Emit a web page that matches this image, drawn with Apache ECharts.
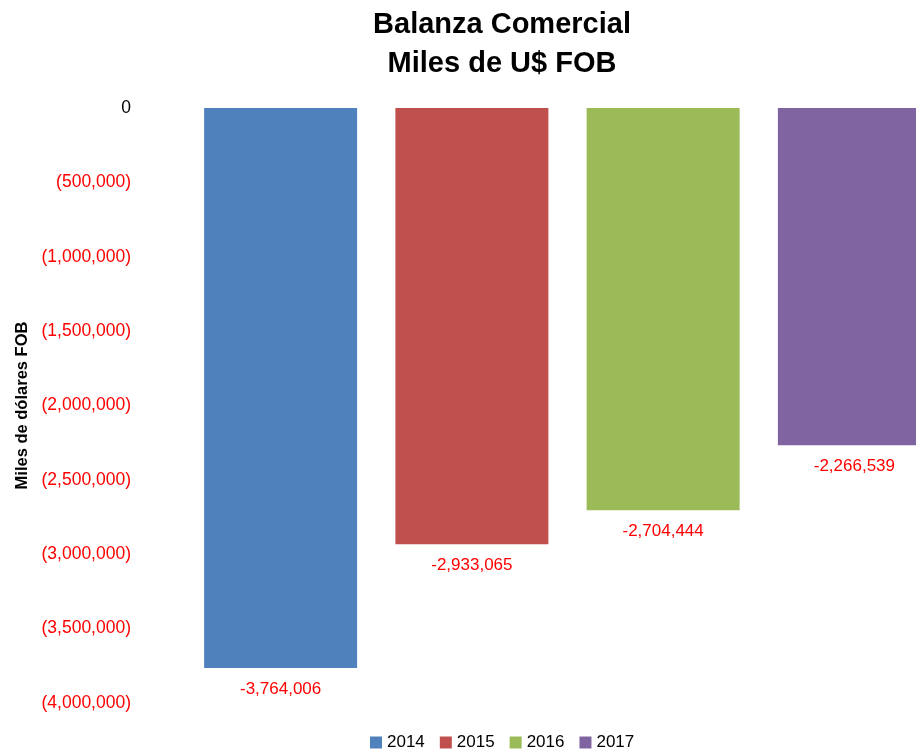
<!DOCTYPE html>
<html>
<head>
<meta charset="utf-8">
<script src="https://cdn.jsdelivr.net/npm/echarts@6/dist/echarts.min.js"></script>
<style>
  html, body { margin: 0; padding: 0; background: #fff; }
  #chart { width: 916px; height: 754px; }
</style>
</head>
<body>
<div id="chart"></div>
<script>
// Balanza comercial por año (miles de US$ FOB)
const years = ['2014', '2015', '2016', '2017']
const balance = [-3764006, -2933065, -2704444, -2266539]
const colors = ['#4F81BD', '#C0504D', '#9BBB59', '#8064A2']

const FONT = '"Liberation Sans", Arial, sans-serif'

function fmtNum(v) {
  return Math.abs(v).toLocaleString('en-US')
}

const chart = echarts.init(document.getElementById('chart'))

const series = years.map((y, i) => ({
  name: y,
  type: 'bar',
  data: [balance[i]],
  barWidth: 153,
  barGap: '25%',
  itemStyle: { color: colors[i] },
  label: {
    show: true,
    position: 'bottom',
    distance: 13,
    color: '#FF0000',
    fontFamily: FONT,
    fontSize: 17,
    formatter: (p) => (p.value < 0 ? '-' : '') + fmtNum(p.value),
  },
}))

const option = {
  animation: false,
  color: colors,
  title: {
    text: 'Balanza Comercial\nMiles de U$ FOB',
    left: 497,
    textAlign: 'center',
    top: 0,
    textStyle: {
      fontFamily: FONT,
      fontSize: 29,
      fontWeight: 'bold',
      color: '#000',
      lineHeight: 39,
    },
  },
  legend: {
    data: years,
    bottom: -2,
    left: 365,
    itemWidth: 12,
    itemHeight: 12,
    itemGap: 15,
    icon: 'rect',
    textStyle: { fontFamily: FONT, fontSize: 17, color: '#000' },
  },
  grid: {
    left: 186,
    top: 108,
    width: 763,
    height: 595,
    outerBoundsMode: 'none',
  },
  xAxis: {
    type: 'category',
    data: ['Balanza'],
    show: false,
  },
  yAxis: {
    type: 'value',
    min: -4000000,
    max: 0,
    interval: 500000,
    name: 'Miles de dólares FOB',
    nameLocation: 'middle',
    nameGap: 150,
    nameRotate: 90,
    nameTextStyle: {
      fontFamily: FONT,
      fontSize: 16.5,
      fontWeight: 'bold',
      color: '#000',
    },
    axisLine: { show: false },
    axisTick: { show: false },
    splitLine: { show: false },
    axisLabel: {
      margin: 55,
      fontFamily: FONT,
      fontSize: 17.5,
      color: (v) => (Number(v) < 0 ? '#FF0000' : '#000'),
      formatter: (v) => (v < 0 ? '(' + fmtNum(v) + ')' : String(v)),
    },
  },
  series: series,
}

chart.setOption(option)
</script>
</body>
</html>
